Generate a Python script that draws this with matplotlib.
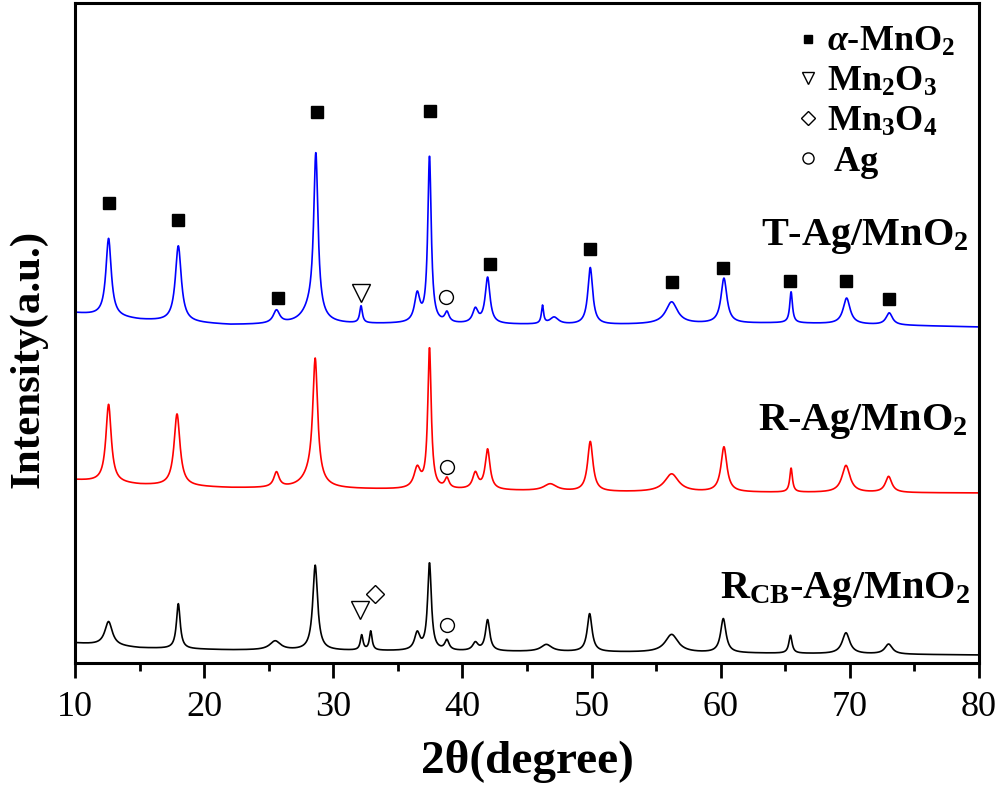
import numpy as np
import matplotlib
matplotlib.use('Agg')
import matplotlib.pyplot as plt
from matplotlib.lines import Line2D

plt.rcParams['font.family'] = ['Liberation Serif', 'DejaVu Serif']
plt.rcParams['mathtext.fontset'] = 'custom'
plt.rcParams['mathtext.rm'] = 'Liberation Serif:bold'
plt.rcParams['mathtext.bf'] = 'Liberation Serif:bold'
plt.rcParams['mathtext.it'] = 'Liberation Serif:bold:italic'
plt.rcParams['mathtext.default'] = 'bf'

# peak tables: position (deg), height above baseline, FWHM (deg)
t_pos = [12.6, 18.0, 25.6, 28.3, 28.65, 32.15, 36.5, 37.45, 38.8, 41.0, 41.95, 46.2, 47.1, 49.9, 56.2, 60.25, 65.45, 69.75, 73.05]
t_h = [78, 76, 13, 14, 160, 17, 28, 166, 10, 14, 46, 18, 7, 57, 22, 45, 31, 26, 12]
t_w = [0.5, 0.55, 0.6, 1.6, 0.4, 0.25, 0.5, 0.32, 0.4, 0.5, 0.45, 0.2, 0.8, 0.45, 1.1, 0.55, 0.25, 0.65, 0.6]
t_base_x = [10, 15, 22, 35, 50, 65, 80]
t_base_y = [350, 343, 338, 339, 338, 340, 336]

r_pos = [12.6, 17.9, 25.6, 28.3, 28.6, 36.5, 37.45, 38.8, 41.0, 41.95, 46.8, 49.9, 56.2, 60.25, 65.45, 69.7, 73.0]
r_h = [78, 72, 15, 12, 120, 20, 140, 10, 16, 40, 7, 50, 18, 45, 24, 27, 16]
r_w = [0.5, 0.55, 0.5, 1.6, 0.45, 0.6, 0.32, 0.4, 0.5, 0.45, 1.2, 0.5, 1.3, 0.55, 0.25, 0.75, 0.6]
r_base_x = [10, 15, 22, 30, 40, 50, 80]
r_base_y = [183, 178, 175, 174, 173, 171, 170]

c_pos = [12.6, 18.0, 25.5, 28.6, 32.2, 32.9, 36.5, 37.45, 38.8, 41.0, 41.95, 46.5, 49.85, 56.2, 60.2, 65.4, 69.7, 73.0]
c_h = [24, 45, 9, 85, 15, 19, 17, 87, 10, 8, 31, 7, 38, 18, 34, 18, 21, 10]
c_w = [0.7, 0.35, 1.0, 0.45, 0.25, 0.25, 0.5, 0.35, 0.4, 0.5, 0.4, 1.0, 0.45, 1.2, 0.5, 0.3, 0.7, 0.7]
c_base_x = [10, 15, 22, 35, 50, 80]
c_base_y = [20, 15, 13, 12, 11, 8]

# phase markers (deg, intensity)
sq_x = [12.65, 18.0, 25.7, 28.75, 37.5, 42.1, 49.9, 56.2, 60.2, 65.4, 69.7, 73.0]
sq_y = [460, 443, 365, 551, 552, 399, 414, 381, 395, 382, 382, 364]
tri_x = [32.15, 32.1]
tri_y = [370, 53]
dia_x = [33.2]
dia_y = [69]
cir_x = [38.75, 38.8, 38.8]
cir_y = [366, 196, 38]

x = np.arange(10, 80.001, 0.02)


def pattern(pos, h, w, bx, by):
    y = np.interp(x, bx, by).astype(float)
    for p, a, fw in zip(pos, h, w):
        y += a / (1 + ((x - p) / (fw / 2)) ** 2)
    return y


fig = plt.figure(figsize=(9.99, 7.86), dpi=100)
ax = fig.add_axes([75 / 999, 123 / 786, 904 / 999, 660 / 786])

ax.plot(x, pattern(t_pos, t_h, t_w, t_base_x, t_base_y), color='#0000ff', lw=1.2)
ax.plot(x, pattern(r_pos, r_h, r_w, r_base_x, r_base_y), color='#ff0000', lw=1.2)
ax.plot(x, pattern(c_pos, c_h, c_w, c_base_x, c_base_y), color='black', lw=1.2)

ax.plot(sq_x, sq_y, 's', color='black', ms=8.5, ls='none')
ax.plot(tri_x, tri_y, 'v', mfc='white', mec='black', ms=13, mew=1, ls='none')
ax.plot(dia_x, dia_y, 'D', mfc='white', mec='black', ms=9, mew=1, ls='none')
ax.plot(cir_x, cir_y, 'o', mfc='white', mec='black', ms=10, mew=1, ls='none')

ax.text(0.988, 0.633, 'T-Ag/MnO$_2$', transform=ax.transAxes, ha='right', va='baseline',
        fontsize=29, fontweight='bold')
ax.text(0.988, 0.353, 'R-Ag/MnO$_2$', transform=ax.transAxes, ha='right', va='baseline',
        fontsize=29, fontweight='bold')
ax.text(0.990, 0.098, 'R$_{CB}$-Ag/MnO$_2$', transform=ax.transAxes, ha='right', va='baseline',
        fontsize=29, fontweight='bold')

handles = [Line2D([], [], marker='s', ls='none', color='black', ms=6),
           Line2D([], [], marker='v', ls='none', mfc='white', mec='black', ms=9, mew=1),
           Line2D([], [], marker='D', ls='none', mfc='white', mec='black', ms=7, mew=1),
           Line2D([], [], marker='o', ls='none', mfc='white', mec='black', ms=8, mew=1)]
labels = [r'$\mathit{\alpha}$-MnO$_2$', 'Mn$_2$O$_3$', 'Mn$_3$O$_4$', ' Ag']
ax.legend(handles, labels, loc='upper right', bbox_to_anchor=(0.997, 0.998), frameon=False,
          prop={'size': 26, 'weight': 'bold'}, handlelength=0.6, handletextpad=0.2,
          labelspacing=0.18, borderpad=0.1)

ax.set_xlim(10, 80)
ax.set_ylim(0, 660)
ax.set_xticks(np.arange(10, 81, 10))
ax.set_xticks(np.arange(15, 80, 10), minor=True)
ax.set_yticks([])
ax.tick_params(axis='x', which='major', direction='out', length=11, width=2, labelsize=26, pad=9)
ax.tick_params(axis='x', which='minor', direction='out', length=6, width=2)
for s in ax.spines.values():
    s.set_linewidth(2.2)

ax.set_xlabel('2θ(degree)', fontsize=34, fontweight='bold', labelpad=12)
ax.set_ylabel('Intensity(a.u.)', fontsize=31, fontweight='bold')
ax.yaxis.set_label_coords(-0.03, 0.46)

fig.savefig('out.png', dpi=100)
